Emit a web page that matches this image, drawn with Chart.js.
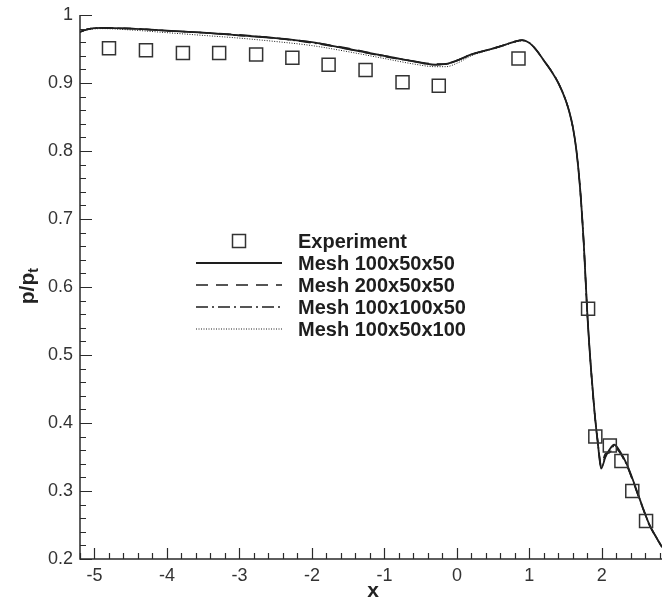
<!DOCTYPE html>
<html>
<head>
<meta charset="utf-8">
<script src="https://cdn.jsdelivr.net/npm/chart.js@4/dist/chart.umd.min.js"></script>
<style>
html, body { margin: 0; padding: 0; background: #fff; }
#wrap { width: 662px; height: 604px; }
</style>
</head>
<body>
<div id="wrap"><canvas id="graphe" width="662" height="604"></canvas></div>
<script>
// Points expérimentaux
var expX = [-4.80, -4.29, -3.78, -3.28, -2.77, -2.27, -1.77, -1.26, -0.75, -0.25, 0.85, 1.81, 1.91, 2.11, 2.27, 2.42, 2.61];
var expY = [0.951, 0.948, 0.944, 0.944, 0.942, 0.937, 0.927, 0.919, 0.901, 0.896, 0.936, 0.568, 0.380, 0.367, 0.344, 0.300, 0.256];

// Abscisses communes des calculs
var meshX = [-5.2, -5.1, -4.9, -4.5, -4.0, -3.5, -3.0, -2.5, -2.0, -1.5, -1.0, -0.6, -0.3, -0.15, 0, 0.2, 0.4, 0.6, 0.8, 0.9, 1.0, 1.1, 1.2, 1.3, 1.4, 1.5, 1.55, 1.6, 1.65, 1.7, 1.75, 1.8, 1.85, 1.9, 1.95, 1.99, 2.05, 2.1, 2.17, 2.25, 2.35, 2.45, 2.55, 2.65, 2.75, 2.83];
var mesh100x50x50 = [0.975, 0.979, 0.981, 0.980, 0.977, 0.974, 0.970, 0.966, 0.960, 0.950, 0.940, 0.932, 0.927, 0.928, 0.933, 0.942, 0.948, 0.954, 0.961, 0.963, 0.959, 0.948, 0.933, 0.918, 0.900, 0.875, 0.858, 0.835, 0.800, 0.745, 0.665, 0.560, 0.480, 0.415, 0.365, 0.333, 0.350, 0.360, 0.368, 0.358, 0.338, 0.310, 0.280, 0.252, 0.232, 0.218];
var mesh200x50x50 = [0.975, 0.979, 0.981, 0.980, 0.977, 0.974, 0.971, 0.966, 0.960, 0.951, 0.940, 0.932, 0.928, 0.928, 0.933, 0.942, 0.948, 0.954, 0.961, 0.963, 0.959, 0.948, 0.933, 0.918, 0.900, 0.875, 0.858, 0.835, 0.800, 0.745, 0.665, 0.560, 0.480, 0.415, 0.368, 0.338, 0.355, 0.356, 0.364, 0.356, 0.336, 0.308, 0.279, 0.251, 0.231, 0.217];
var mesh100x100x50 = [0.975, 0.979, 0.981, 0.980, 0.977, 0.974, 0.970, 0.966, 0.959, 0.950, 0.939, 0.932, 0.927, 0.928, 0.933, 0.942, 0.948, 0.954, 0.961, 0.963, 0.959, 0.948, 0.933, 0.918, 0.900, 0.875, 0.858, 0.835, 0.800, 0.745, 0.665, 0.560, 0.480, 0.415, 0.366, 0.335, 0.352, 0.358, 0.366, 0.357, 0.337, 0.309, 0.280, 0.252, 0.232, 0.218];
var mesh100x50x100 = [0.975, 0.978, 0.980, 0.978, 0.974, 0.970, 0.966, 0.961, 0.955, 0.946, 0.936, 0.928, 0.924, 0.924, 0.929, 0.940, 0.947, 0.953, 0.960, 0.962, 0.959, 0.948, 0.933, 0.918, 0.900, 0.875, 0.858, 0.835, 0.800, 0.745, 0.665, 0.560, 0.480, 0.415, 0.365, 0.334, 0.350, 0.360, 0.368, 0.358, 0.338, 0.310, 0.280, 0.252, 0.232, 0.218];

var seriesNames = ['Experiment', 'Mesh 100x50x50', 'Mesh 200x50x50', 'Mesh 100x100x50', 'Mesh 100x50x100'];
var xTicks = [-5, -4, -3, -2, -1, 0, 1, 2];
var yTicks = [0.2, 0.3, 0.4, 0.5, 0.6, 0.7, 0.8, 0.9, 1];

function points(xs, ys) {
    return xs.map(function(x, i) { return { x: x, y: ys[i] }; });
}

function courbe(label, ys, dash, width) {
    return {
        label: label,
        data: points(meshX, ys),
        showLine: true,
        borderColor: '#1e1e1e',
        borderWidth: width,
        borderDash: dash,
        pointRadius: 0,
        cubicInterpolationMode: 'monotone',
        fill: false
    };
}

// Graduations dirigées vers l'intérieur, majeures et mineures
var graduations = {
    id: 'graduations',
    afterDraw: function(chart) {
        var ctx = chart.ctx, a = chart.chartArea;
        var sx = chart.scales.x, sy = chart.scales.y;
        ctx.save();
        ctx.strokeStyle = '#2a2a2a';
        ctx.lineWidth = 1.5;
        ctx.beginPath();
        ctx.moveTo(a.left, a.top);
        ctx.lineTo(a.left, a.bottom);
        ctx.lineTo(a.right, a.bottom);
        ctx.stroke();
        ctx.lineWidth = 1.2;
        ctx.beginPath();
        for (var i = -6; i <= 3; i++) {
            for (var k = 0; k < 5; k++) {
                var v = i + k * 0.2;
                if (v < sx.min - 1e-6 || v > sx.max) continue;
                var px = Math.round(sx.getPixelForValue(v)) + 0.5;
                ctx.moveTo(px, a.bottom);
                ctx.lineTo(px, a.bottom - (k === 0 ? 11 : 6));
            }
        }
        for (var j = 2; j <= 10; j++) {
            for (var m = 0; m < 5; m++) {
                var w = j / 10 + m * 0.02;
                if (w > sy.max + 1e-6) continue;
                var py = Math.round(sy.getPixelForValue(w)) + 0.5;
                ctx.moveTo(a.left, py);
                ctx.lineTo(a.left + (m === 0 ? 12 : 6), py);
            }
        }
        ctx.stroke();

        // titres des axes
        ctx.fillStyle = '#222';
        ctx.font = 'bold 21px "Liberation Sans", Arial, sans-serif';
        ctx.textAlign = 'center';
        ctx.textBaseline = 'middle';
        ctx.fillText('x', 373, 591);
        ctx.translate(27, 286);
        ctx.rotate(-Math.PI / 2);
        ctx.textAlign = 'left';
        ctx.textBaseline = 'alphabetic';
        var base = 'p/p';
        var wb = ctx.measureText(base).width;
        ctx.fillText(base, -(wb + 5) / 2, 7);
        ctx.font = 'bold 14px "Liberation Sans", Arial, sans-serif';
        ctx.fillText('t', -(wb + 5) / 2 + wb, 11);
        ctx.restore();
    }
};

// Légende dessinée dans la zone du graphique
var legende = {
    id: 'legende',
    afterDraw: function(chart) {
        var ctx = chart.ctx;
        var rows = [241, 263, 285, 307, 329];
        ctx.save();
        ctx.font = 'bold 20px "Liberation Sans", Arial, sans-serif';
        ctx.textBaseline = 'middle';
        ctx.textAlign = 'left';
        chart.data.datasets.forEach(function(ds, i) {
            var y = rows[i];
            ctx.strokeStyle = ds.borderColor;
            ctx.lineWidth = ds.borderWidth;
            if (i === 0) {
                ctx.strokeRect(239 - 6.5, y - 6.5, 13, 13);
            } else {
                ctx.setLineDash(ds.borderDash || []);
                ctx.beginPath();
                ctx.moveTo(196, y);
                ctx.lineTo(282, y);
                ctx.stroke();
                ctx.setLineDash([]);
            }
            ctx.fillStyle = '#1e1e1e';
            ctx.fillText(ds.label, 298, y + 1);
        });
        ctx.restore();
    }
};

var police = { family: '"Liberation Sans", Arial, sans-serif', size: 18 };

var config = {
    type: 'scatter',
    data: {
        datasets: [
            {
                label: seriesNames[0],
                data: points(expX, expY),
                pointStyle: 'rect',
                pointRadius: 9.2,
                pointHoverRadius: 9.2,
                borderColor: '#333',
                borderWidth: 1.5,
                backgroundColor: 'rgba(0,0,0,0)'
            },
            courbe(seriesNames[1], mesh100x50x50, [], 1.8),
            courbe(seriesNames[2], mesh200x50x50, [12, 8], 1.5),
            courbe(seriesNames[3], mesh100x100x50, [12, 4, 2, 4], 1.5),
            courbe(seriesNames[4], mesh100x50x100, [1, 1.5], 1)
        ]
    },
    options: {
        responsive: false,
        animation: false,
        devicePixelRatio: 1,
        layout: { autoPadding: false, padding: { top: 15, right: 0, left: 0, bottom: 0 } },
        plugins: { legend: { display: false }, tooltip: { enabled: false } },
        scales: {
            x: {
                type: 'linear',
                min: -5.2,
                max: 2.83,
                afterFit: function(s) { s.height = 45; s.paddingLeft = 0; s.paddingRight = 0; },
                afterBuildTicks: function(s) { s.ticks = xTicks.map(function(v) { return { value: v }; }); },
                grid: { display: false, drawTicks: false },
                border: { display: false },
                ticks: { padding: 6, color: '#333', font: police, callback: function(v) { return String(v); } }
            },
            y: {
                type: 'linear',
                min: 0.2,
                max: 1,
                afterFit: function(s) { s.width = 80; s.paddingTop = 0; s.paddingBottom = 0; },
                afterBuildTicks: function(s) { s.ticks = yTicks.map(function(v) { return { value: v }; }); },
                grid: { display: false, drawTicks: false },
                border: { display: false },
                ticks: { padding: 7, color: '#333', font: police, callback: function(v) { return String(Math.round(v * 10) / 10); } }
            }
        }
    },
    plugins: [graduations, legende]
};

var ctx = document.getElementById('graphe').getContext('2d');
new Chart(ctx, config);
</script>
</body>
</html>
